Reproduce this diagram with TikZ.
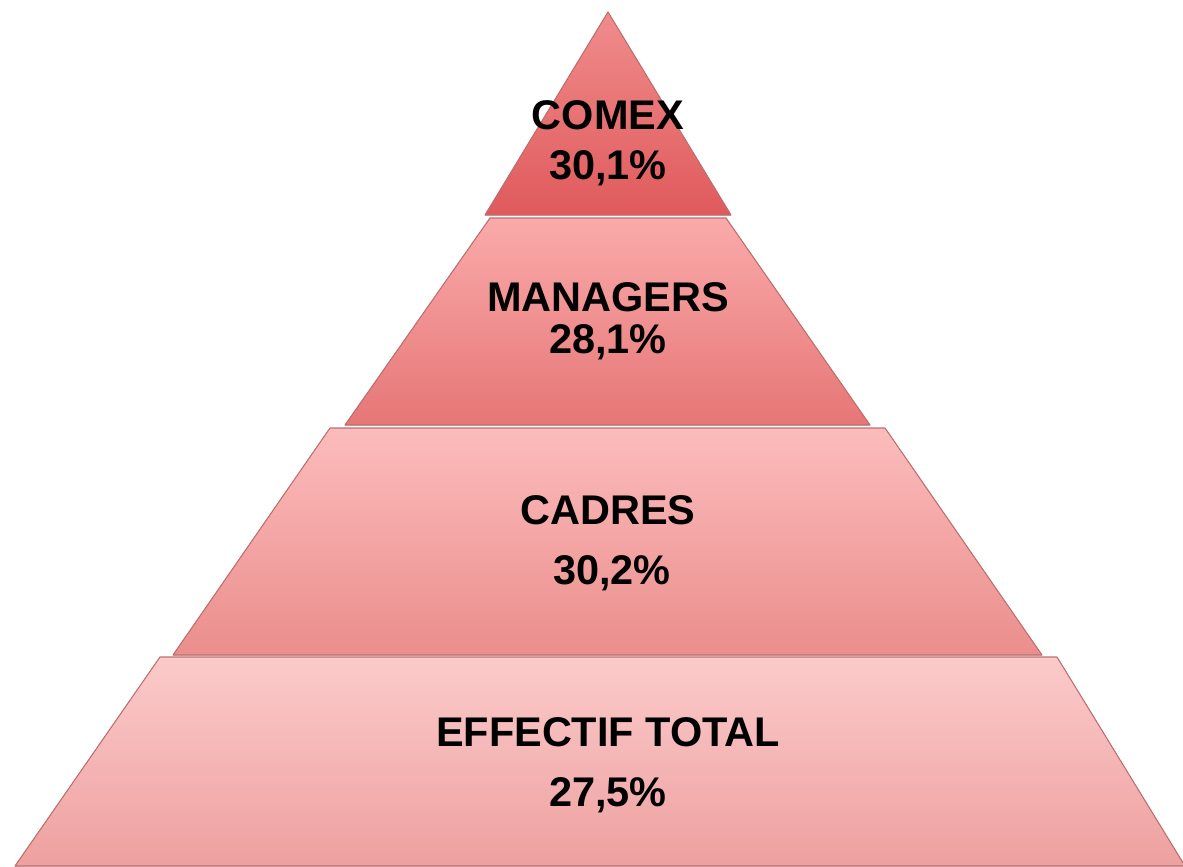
\documentclass[tikz,border=0pt]{standalone}
\usepackage{fontspec}
\setmainfont{Liberation Sans}
\definecolor{toptop}{RGB}{240,140,140}
\definecolor{topbot}{RGB}{224,90,92}
\definecolor{mgrtop}{RGB}{250,170,170}
\definecolor{mgrbot}{RGB}{230,118,118}
\definecolor{cadtop}{RGB}{252,188,188}
\definecolor{cadbot}{RGB}{234,142,140}
\definecolor{efftop}{RGB}{252,202,202}
\definecolor{effbot}{RGB}{238,160,160}
\definecolor{myedge}{RGB}{190,110,110}

\begin{document}
\begin{tikzpicture}[x=0.02cm,y=-0.02cm,
    layer/.style={draw=myedge,line width=0.6pt,line join=round},
    txt/.style={font=\fontsize{23.6}{28}\selectfont\bfseries,inner sep=0pt}
    ]
    \useasboundingbox (0,0) rectangle (1183,866);

    % the layers, from bottom to top
    \fill[layer,top color=efftop,bottom color=effbot]
        (160,657) -- (1057,657) -- (1185,866) -- (15,866) -- cycle;
    \fill[layer,top color=cadtop,bottom color=cadbot]
        (330,428) -- (885,428) -- (1042,655) -- (173,655) -- cycle;
    \fill[layer,top color=mgrtop,bottom color=mgrbot]
        (490,218) -- (726,218) -- (870,425) -- (345,425) -- cycle;
    \fill[layer,top color=toptop,bottom color=topbot]
        (608,12) -- (731,215) -- (485,215) -- cycle;

    % the labels
    \node[txt] (comex) at (608,115) {COMEX};
    \node[txt] (comexv) at (608,168) {30,1\%};
    \node[txt] (mgr) at (608,297) {MANAGERS};
    \node[txt] (mgrv) at (608,342) {28,1\%};
    \node[txt] (cad) at (608,510) {CADRES};
    \node[txt] (cadv) at (612,573) {30,2\%};
    \node[txt] (eff) at (608,732) {EFFECTIF TOTAL};
    \node[txt] (effv) at (608,795) {27,5\%};

\end{tikzpicture}
\end{document}
